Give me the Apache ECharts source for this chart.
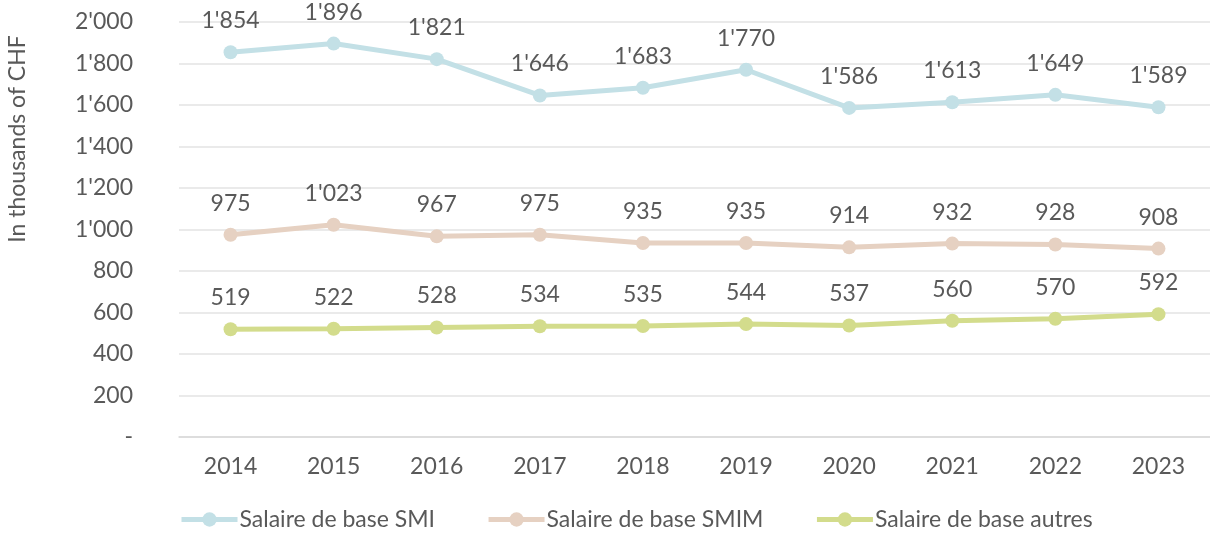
<!DOCTYPE html>
<html>
<head>
<meta charset="utf-8">
<script src="https://cdn.jsdelivr.net/npm/echarts@6/dist/echarts.min.js"></script>
<style>
  html, body { margin: 0; padding: 0; background: #fff; }
  #chart { width: 1210px; height: 536px; }
</style>
</head>
<body>
<div id="chart"></div>
<script>
const years = ['2014', '2015', '2016', '2017', '2018', '2019', '2020', '2021', '2022', '2023']
const smi = [1854, 1896, 1821, 1646, 1683, 1770, 1586, 1613, 1649, 1589]
const smim = [975, 1023, 967, 975, 935, 935, 914, 932, 928, 908]
const autres = [519, 522, 528, 534, 535, 544, 537, 560, 570, 592]
const seriesNames = ['Salaire de base SMI', 'Salaire de base SMIM', 'Salaire de base autres']
const colors = ['#c3e0e6', '#e6d1c2', '#d3dc8c']

// 2'000 style thousands separator
function fmt(v) {
  if (v === 0) return '-'
  return String(v).replace(/\B(?=(\d{3})+(?!\d))/g, "'")
}

const chart = echarts.init(document.getElementById('chart'))

function lineSeries(name, data, color) {
  return {
    name: name,
    type: 'line',
    data: data,
    symbol: 'circle',
    symbolSize: 14,
    lineStyle: { color: color, width: 5 },
    itemStyle: { color: color },
    label: {
      show: true,
      position: 'top',
      distance: 13,
      color: '#595959',
      fontSize: 23,
      fontFamily: 'Lato',
      formatter: p => fmt(p.value)
    }
  }
}

chart.setOption({
  animation: false,
  textStyle: { fontFamily: 'Lato' },
  grid: { left: 179, top: 22, width: 1036, height: 415 },
  legend: {
    bottom: 0,
    left: 174,
    itemWidth: 56,
    itemHeight: 18,
    itemGap: 51,
    lineStyle: { width: 5 },
    textStyle: { color: '#595959', fontSize: 23, fontFamily: 'Lato', padding: [0, 0, 0, -3] },
    data: seriesNames
  },
  graphic: [{
    type: 'text',
    x: 18,
    y: 139,
    rotation: Math.PI / 2,
    style: {
      text: 'In thousands of CHF',
      fill: '#595959',
      fontSize: 23,
      fontFamily: 'Lato',
      align: 'center',
      verticalAlign: 'middle'
    }
  }],
  xAxis: {
    type: 'category',
    data: years,
    axisLine: { show: true, lineStyle: { color: '#d9d9d9', width: 1.5 } },
    axisTick: { show: false },
    axisLabel: { color: '#595959', fontSize: 23, margin: 18 }
  },
  yAxis: {
    type: 'value',
    min: 0,
    max: 2000,
    interval: 200,
    axisLine: { show: false },
    axisTick: { show: false },
    axisLabel: { color: '#595959', fontSize: 23, margin: 46, formatter: v => fmt(v) },
    splitLine: { lineStyle: { color: '#e3e3e3', width: 1.5 } }
  },
  series: [
    lineSeries(seriesNames[0], smi, colors[0]),
    lineSeries(seriesNames[1], smim, colors[1]),
    lineSeries(seriesNames[2], autres, colors[2])
  ]
})

window.addEventListener('resize', () => {
  chart && chart.resize()
})
</script>
</body>
</html>
